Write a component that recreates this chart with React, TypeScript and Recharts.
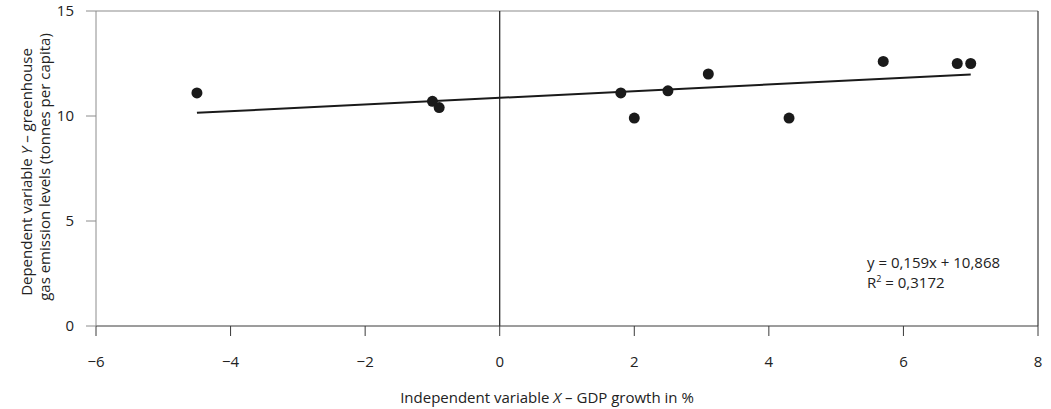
import React from 'react';
import { ScatterChart, Scatter, XAxis, YAxis, ReferenceLine } from 'recharts';

// GDP growth (%) vs greenhouse gas emissions (t per capita)
const gdpGrowth = [-4.5, -1.0, -0.9, 1.8, 2.0, 2.5, 3.1, 4.3, 5.7, 6.8, 7.0];
const emissions = [11.1, 10.7, 10.4, 11.1, 9.9, 11.2, 12.0, 9.9, 12.6, 12.5, 12.5];

// linear trend endpoints as drawn
const trendX = [-4.5, 7.0];
const trendY = [10.15, 11.98];

const xTicks = [-6, -4, -2, 0, 2, 4, 6, 8];
const yTicks = [0, 5, 10, 15];

const points = gdpGrowth.map((x, i) => ({ x, y: emissions[i] }));
const trend = trendX.map((x, i) => ({ x, y: trendY[i] }));

const FONT = '"Open Sans", sans-serif';
const fmt = (v: number) => (v < 0 ? `\u2212${Math.abs(v)}` : `${v}`);

const Dot = (props: any) => <circle cx={props.cx} cy={props.cy} r={5.5} fill="#1a1a1a" />;

const App: React.FC = () => {
  return (
    <div style={{ position: 'absolute', top: 0, left: 0, width: 1051, height: 409, fontFamily: FONT }}>
      <ScatterChart
        width={1051}
        height={409}
        margin={{ top: 11, right: 13, left: 0, bottom: 0 }}
        style={{ overflow: 'visible' }}
      >
        <XAxis
          type="number"
          dataKey="x"
          domain={[-6, 8]}
          ticks={xTicks}
          tickFormatter={fmt}
          height={83}
          tickSize={10}
          tickMargin={20}
          stroke="#3a3a3a"
          tick={{ fill: '#222', fontSize: 15, fontFamily: FONT }}
        />
        <YAxis
          type="number"
          dataKey="y"
          domain={[0, 15]}
          ticks={yTicks}
          width={96}
          tickSize={10}
          tickMargin={12}
          stroke="#8c8c8c"
          tick={{ fill: '#222', fontSize: 15, fontFamily: FONT }}
        />
        <ReferenceLine y={15} stroke="#8c8c8c" strokeWidth={1.2} />
        <ReferenceLine x={8} stroke="#3a3a3a" strokeWidth={1.2} />
        <ReferenceLine x={0} stroke="#1a1a1a" strokeWidth={1.2} />
        <Scatter
          data={trend}
          line={{ stroke: '#1a1a1a', strokeWidth: 2 }}
          shape={() => <g />}
          isAnimationActive={false}
        />
        <Scatter data={points} shape={Dot} isAnimationActive={false} />

        {/* axis titles and regression note */}
        <g fontFamily={FONT} fontSize={15} fill="#222">
          <text transform="translate(27,172) rotate(-90)" textAnchor="middle" dy="0.35em">
            Dependent variable <tspan fontStyle="italic">Y</tspan> – greenhouse
          </text>
          <text transform="translate(45,167) rotate(-90)" textAnchor="middle" dy="0.35em">
            gas emission levels (tonnes per capita)
          </text>
          <text x={547} y={398} textAnchor="middle" dy="0.35em">
            Independent variable <tspan fontStyle="italic">X</tspan> – GDP growth in %
          </text>
          <text x={867} y={263} dy="0.35em">y = 0,159x + 10,868</text>
          <text x={867} y={283} dy="0.35em">
            R<tspan fontSize={9} dy="-6">2</tspan>
            <tspan dy="6"> = 0,3172</tspan>
          </text>
        </g>
      </ScatterChart>
    </div>
  );
};

export default App;
